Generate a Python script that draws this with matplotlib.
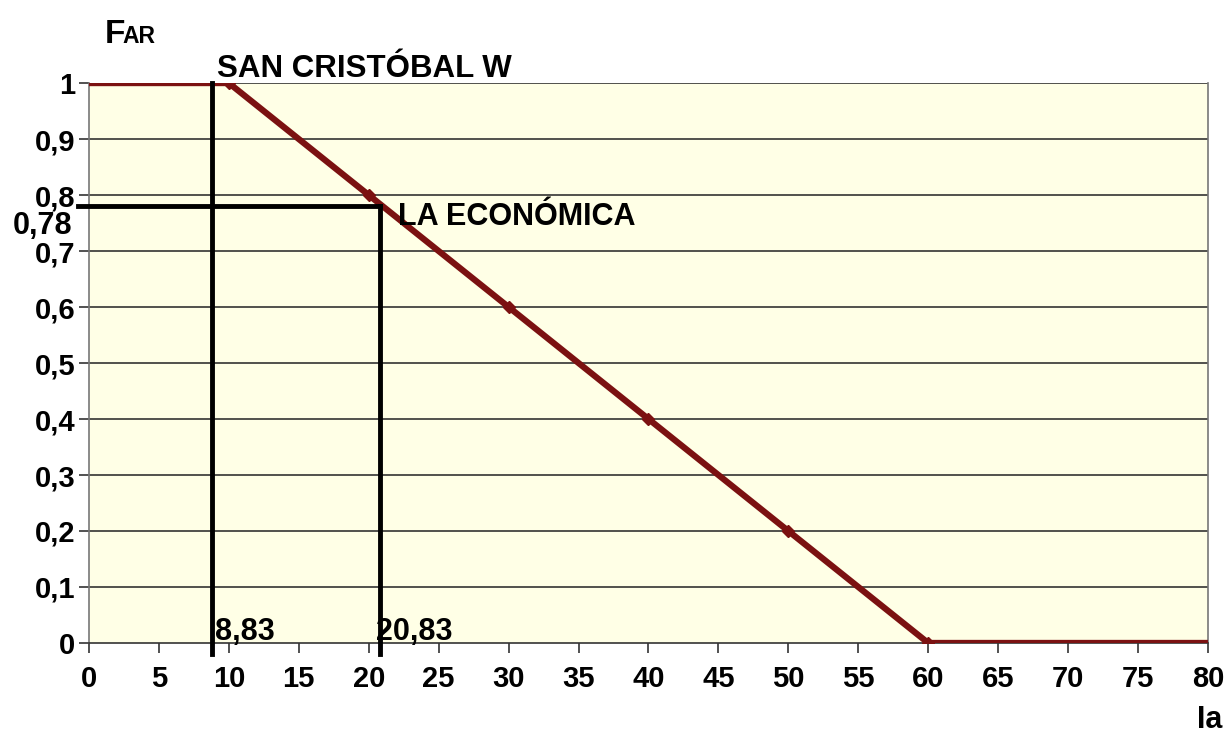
import matplotlib
matplotlib.use("Agg")
import matplotlib.pyplot as plt
import numpy as np

plt.rcParams['font.family'] = ['Liberation Sans', 'DejaVu Sans']
plt.rcParams['font.weight'] = 'bold'

ia = [0, 10, 20, 30, 40, 50, 60, 80]
far = [1, 1, 0.8, 0.6, 0.4, 0.2, 0, 0]
marker_x = [10, 20, 30, 40, 50, 60]
marker_y = [1, 0.8, 0.6, 0.4, 0.2, 0]

sc_x, sc_y = 8.83, 1.0
le_x, le_y = 20.83, 0.78

xticks = list(range(0, 81, 5))
yticks = [0, 0.1, 0.2, 0.3, 0.4, 0.5, 0.6, 0.7, 0.8, 0.9, 1]
ytick_labels = ['0', '0,1', '0,2', '0,3', '0,4', '0,5', '0,6', '0,7', '0,8', '0,9', '1']

fig = plt.figure(figsize=(12.27, 7.35), dpi=100)
ax = fig.add_axes([0.0725, 0.1252, 0.912, 0.7618])
ax.set_facecolor('#FFFFE6')
ax.set_xlim(0, 80)
ax.set_ylim(0, 1)

for y in yticks[1:]:
    ax.axhline(y, color='#333333', lw=1.2, zorder=1)

ax.plot(ia, far, color='#7B1111', lw=4.5, zorder=3, solid_capstyle='butt')
ax.plot(marker_x, marker_y, ls='none', marker='D', ms=6, color='#7B1111', zorder=3)

# reference lines
ax.plot([sc_x, sc_x], [-0.02, sc_y], color='black', lw=3.5, zorder=4, clip_on=False)
ax.plot([le_x, le_x], [-0.02, le_y], color='black', lw=3.5, zorder=4, clip_on=False)
ax.plot([-0.8, le_x], [le_y, le_y], color='black', lw=3.5, zorder=4, clip_on=False)

ax.set_xticks(xticks)
ax.set_xticklabels([str(v) for v in xticks], fontsize=21, fontweight='bold')
ax.set_yticks(yticks)
ax.set_yticklabels(ytick_labels, fontsize=21, fontweight='bold')
ax.tick_params(axis='x', direction='out', length=7, width=1.2, color='#333333', pad=9)
ax.tick_params(axis='y', direction='out', length=7, width=1.2, color='#333333', pad=3)

ax.spines['top'].set_visible(False)
for s in ['left', 'right']:
    ax.spines[s].set_color('#777777')
    ax.spines[s].set_linewidth(1.2)
ax.spines['bottom'].set_color('#333333')
ax.spines['bottom'].set_linewidth(1.2)

ax.text(sc_x + 0.3, 1.011, 'SAN CRISTÓBAL W', fontsize=22.5, fontweight='bold', ha='left', va='baseline')
ax.text(22.1, 0.761, 'LA ECONÓMICA', fontsize=22, fontweight='bold', ha='left', va='center')
ax.text(sc_x + 0.2, 0.005, '8,83', fontsize=22, fontweight='bold', ha='left', va='baseline')
ax.text(le_x - 0.3, 0.005, '20,83', fontsize=22, fontweight='bold', ha='left', va='baseline')
ax.text(-1.2, 0.744, '0,78', fontsize=22, fontweight='bold', ha='right', va='center')

fig.text(0.0856, 0.9415, 'F', fontsize=24, fontweight='bold', ha='left', va='baseline')
fig.text(0.1, 0.9415, 'AR', fontsize=16.5, fontweight='bold', ha='left', va='baseline')
fig.text(0.996, 0.009, 'Ia', fontsize=22, fontweight='bold', ha='right', va='baseline')

fig.savefig('out.png', dpi=100, facecolor='white')
